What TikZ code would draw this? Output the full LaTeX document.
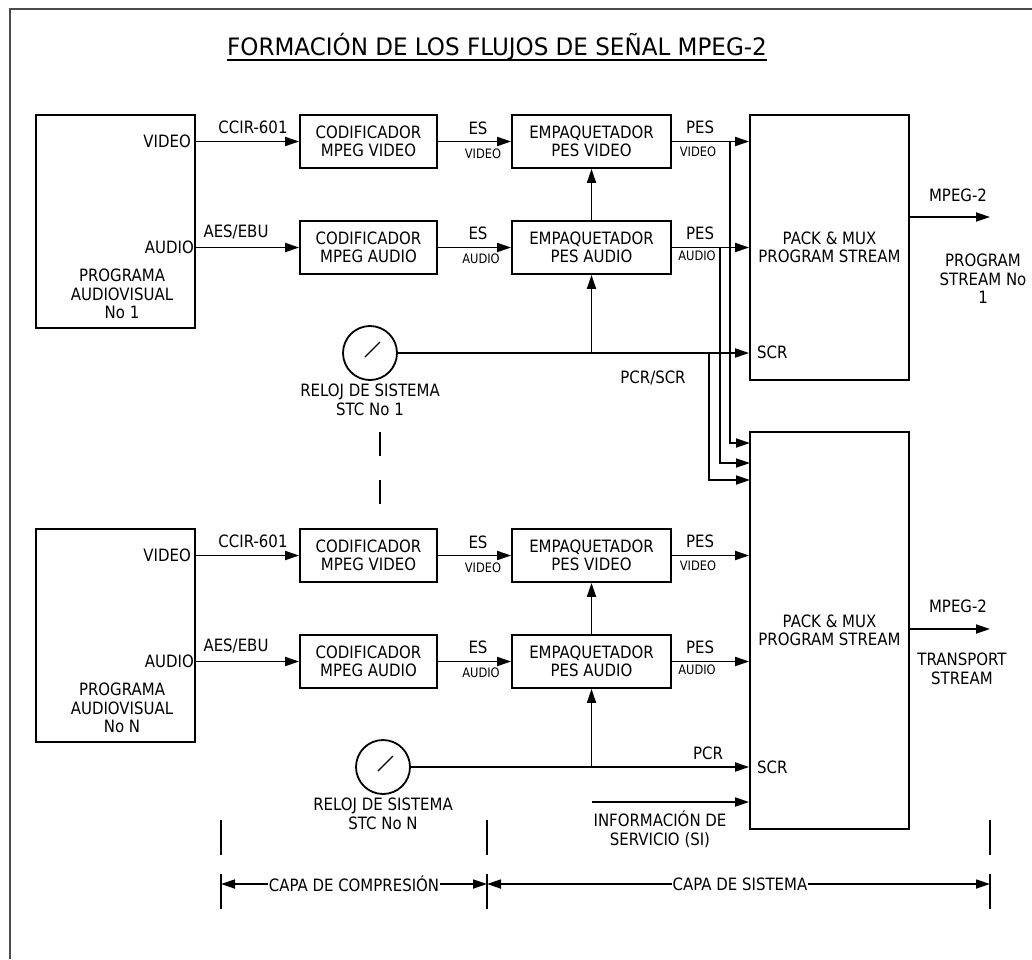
\documentclass[tikz,border=0pt]{standalone}
\usepackage{fontspec}
\setmainfont{DejaVu Sans}[FakeStretch=0.88]
\newfontfamily\headfont{DejaVu Sans}[FakeStretch=0.96]
\usetikzlibrary{arrows.meta,calc}
\newcommand\txtsz{\fontsize{17}{18.5}\selectfont}
\newcommand\tagsz{\fontsize{13}{14}\selectfont}
\begin{document}
\begin{tikzpicture}[x=1pt,y=-1pt,
  ln/.style={line width=1.8pt},
  box/.style={draw, line width=1.8pt, inner sep=0pt, align=center, font=\txtsz},
  txt/.style={inner sep=0pt, align=center, font=\txtsz},
  tag/.style={inner sep=0pt, font=\tagsz},
  arr/.style={ln, -{Triangle[length=14pt,width=9pt]}},
  darr/.style={ln, {Triangle[length=14pt,width=9pt]}-{Triangle[length=14pt,width=9pt]}},
  clock/.style={draw, circle, line width=1.8pt, minimum size=54pt, inner sep=0pt},
  frame/.style={line width=2.5pt, draw=black!70}
]
% page
\fill[white] (0,0) rectangle (1032,959);
\useasboundingbox (0,0) rectangle (1032,959);
\draw[frame] (10,959) -- (10,9) -- (1032,9);

% title
\node[font=\headfont\fontsize{24}{26}\selectfont, inner sep=0pt, anchor=base] (title) at (497,55)
  {FORMACIÓN DE LOS FLUJOS DE SEÑAL MPEG-2};
\draw[line width=1.3pt] ($(title.base west)+(0,5)$) -- ($(title.base east)+(0,5)$);

% two identical programme chains
\foreach \s/\dy/\num in {1/0/1, 2/414/N} {
  % source
  \node[box, minimum width=159pt, minimum height=213pt] (src\s) at (115.5,221.5+\dy) {};
  \node[txt, anchor=east] (vin\s) at (191,141.5+\dy) {VIDEO};
  \node[txt, anchor=east] (ain\s) at (194,247.5+\dy) {AUDIO};
  \node[txt] (pname\s) at (122,294+\dy) {PROGRAMA\\AUDIOVISUAL\\No \num};
  % encoders
  \node[box, minimum width=137pt, minimum height=53pt] (cv\s) at (368.5,141.5+\dy) {CODIFICADOR\\MPEG VIDEO};
  \node[box, minimum width=137pt, minimum height=53pt] (ca\s) at (368.5,247.5+\dy) {CODIFICADOR\\MPEG AUDIO};
  % packetizers
  \node[box, minimum width=159pt, minimum height=53pt] (ev\s) at (591.5,141.5+\dy) {EMPAQUETADOR\\PES VIDEO};
  \node[box, minimum width=159pt, minimum height=53pt] (ea\s) at (591.5,247.5+\dy) {EMPAQUETADOR\\PES AUDIO};
  % links
  \draw[arr] (src\s.east |- cv\s.west) -- (cv\s.west);
  \draw[arr] (src\s.east |- ca\s.west) -- (ca\s.west);
  \draw[arr] (cv\s.east) -- (ev\s.west);
  \draw[arr] (ca\s.east) -- (ea\s.west);
  \draw[arr] (ea\s.north) -- (ev\s.south);
  % link labels
  \node[txt] (lccir\s) at (253,127+\dy) {CCIR-601};
  \node[txt] (laes\s) at (236,232+\dy) {AES/EBU};
  \node[txt] (lesv\s) at (478,128+\dy) {ES};
  \node[tag] (tesv\s) at (483,154+\dy) {VIDEO};
  \node[txt] (lesa\s) at (478,233+\dy) {ES};
  \node[tag] (tesa\s) at (481,259+\dy) {AUDIO};
  \node[txt] (lpesv\s) at (700,127+\dy) {PES};
  \node[tag] (tpesv\s) at (698,152+\dy) {VIDEO};
  \node[txt] (lpesa\s) at (700,233+\dy) {PES};
  \node[tag] (tpesa\s) at (697,256+\dy) {AUDIO};
}

% multiplexers
\node[box, minimum width=159pt, minimum height=265pt] (pk1) at (829.5,247.5) {PACK \& MUX\\PROGRAM STREAM};
\node[box, minimum width=159pt, minimum height=397pt] (pk2) at (829.5,630.5) {PACK \& MUX\\PROGRAM STREAM};
\node[txt, anchor=west] (scr1) at (757,352) {SCR};
\node[txt, anchor=west] (scr2) at (757,767) {SCR};

\foreach \s in {1,2} {
  \draw[arr] (ev\s.east) -- (ev\s.east -| pk\s.west);
  \draw[arr] (ea\s.east) -- (ea\s.east -| pk\s.west);
}

% system clocks
\node[clock] (clk1) at (370,353) {};
\node[clock] (clk2) at (383,767) {};
\foreach \s in {1,2} {
  \draw[line width=1.3pt] ($(clk\s.center)+(-5,4)$) -- ($(clk\s.center)+(10,-11)$);
  \draw[arr] (clk\s.east) -- (clk\s.east -| pk\s.west);
  \draw[arr] (clk\s.east -| ea\s.south) -- (ea\s.south);
}
\node[txt] (rel1) at (370,400) {RELOJ DE SISTEMA\\STC No 1};
\node[txt] (rel2) at (383,814) {RELOJ DE SISTEMA\\STC No N};
\node[txt] (pcrscr) at (653,378) {PCR/SCR};
\node[txt] (pcr) at (708,753) {PCR};

% more programmes between the chains
\draw[ln, dash pattern=on 24pt off 24pt] (380,432) -- (380,506);

% first programme also fed to the transport multiplexer
\coordinate (t1) at (730,141.5);
\coordinate (t2) at (720,247.5);
\coordinate (t3) at (709,353);
\coordinate (in1) at (750,443);
\coordinate (in2) at (750,463);
\coordinate (in3) at (750,480);
\draw[arr] (t1) |- (in1);
\draw[arr] (t2) |- (in2);
\draw[arr] (t3) |- (in3);

% service information
\coordinate (si) at (592,802);
\draw[arr] (si) -- (si -| pk2.west);
\node[txt] (silbl) at (660,829) {INFORMACIÓN DE\\SERVICIO (SI)};

% outputs
\coordinate (o1) at (990,217);
\coordinate (o2) at (990,629);
\draw[arr] (pk1.east |- o1) -- (o1);
\draw[arr] (pk2.east |- o2) -- (o2);
\node[txt] (m1) at (958,195) {MPEG-2};
\node[txt] (ps) at (983,279) {PROGRAM\\STREAM No\\1};
\node[txt] (m2) at (958,606) {MPEG-2};
\node[txt] (ts) at (962,669) {TRANSPORT\\STREAM};

% layer scale
\foreach \x in {221,487,990} {
  \draw[ln] (\x,820) -- (\x,855);
  \draw[ln] (\x,874) -- (\x,909);
}
\coordinate (cL) at (221,884);
\coordinate (cM) at (487,884);
\coordinate (cR) at (990,884);
\draw[darr] (cL) -- (cM);
\draw[darr] (cM) -- (cR);
\node[txt, fill=white, inner xsep=1pt] (capa1) at (354,884) {CAPA DE COMPRESIÓN};
\node[txt, fill=white, inner xsep=1pt] (capa2) at (740,884) {CAPA DE SISTEMA};
\end{tikzpicture}
\end{document}
